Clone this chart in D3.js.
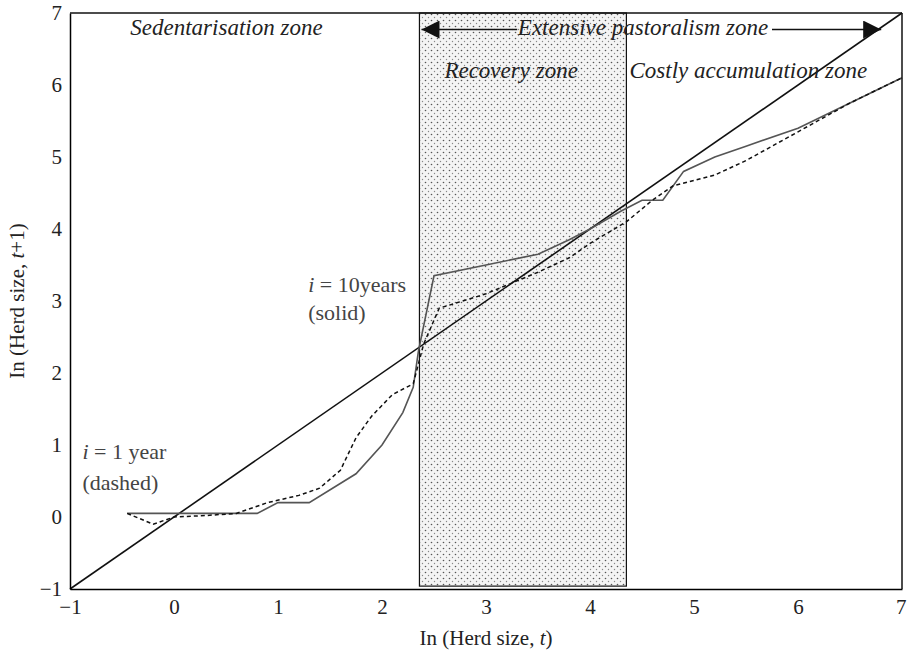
<!DOCTYPE html>
<html lang="en">
<head>
<meta charset="UTF-8">
<title>Herd size dynamics</title>
<script src="https://d3js.org/d3.v7.min.js"></script>
<style>
    body { margin: 0; background: #fff; }
    text { font-family: "Liberation Serif", "DejaVu Serif", serif; fill: #222; }
    .zone { font-style: italic; font-size: 23px; }
    .note { font-size: 22px; fill: #444; }
</style>
</head>
<body>
<svg id="chart"></svg>
<script>
    // data
    var xTicks = [-1, 0, 1, 2, 3, 4, 5, 6, 7];
    var yTicks = [-1, 0, 1, 2, 3, 4, 5, 6, 7];
    var recoveryZone = [2.36, 4.35];
    var diagonal = [[-1, -1], [7, 7]];
    var solidX = [-0.45, 0.8, 1.0, 1.3, 1.75, 2.0, 2.2, 2.3, 2.35, 2.5, 3.0, 3.5, 3.8, 4.0, 4.3, 4.5, 4.7, 4.9, 5.2, 5.5, 6.0, 6.5, 7.0];
    var solidY = [0.05, 0.05, 0.2, 0.2, 0.6, 1.0, 1.45, 1.8, 2.3, 3.35, 3.5, 3.65, 3.85, 4.0, 4.25, 4.4, 4.4, 4.8, 5.0, 5.15, 5.4, 5.75, 6.1];
    var dashedX = [-0.45, -0.2, 0.0, 0.3, 0.6, 0.9, 1.2, 1.4, 1.6, 1.75, 1.9, 2.1, 2.3, 2.4, 2.55, 3.0, 3.5, 3.8, 4.0, 4.35, 4.6, 4.8, 5.2, 5.5, 6.0, 6.5, 7.0];
    var dashedY = [0.05, -0.1, 0.0, 0.02, 0.05, 0.2, 0.3, 0.4, 0.65, 1.1, 1.4, 1.7, 1.85, 2.4, 2.9, 3.1, 3.4, 3.6, 3.8, 4.1, 4.4, 4.6, 4.75, 4.95, 5.35, 5.75, 6.1];

    var margin = { top: 13, right: 5, bottom: 68, left: 70 },
        width = 907 - margin.left - margin.right,
        height = 657 - margin.top - margin.bottom;

    var root = d3.select("#chart").attr("width", 907).attr("height", 657);
    var defs = root.append("defs");
    var pat = defs.append("pattern").attr("id", "dots")
        .attr("width", 6).attr("height", 6).attr("patternUnits", "userSpaceOnUse");
    pat.append("rect").attr("width", 6).attr("height", 6).attr("fill", "#f4f4f4");
    pat.append("circle").attr("cx", 1.5).attr("cy", 1.5).attr("r", 0.8).attr("fill", "#555");
    pat.append("circle").attr("cx", 4.5).attr("cy", 4.5).attr("r", 0.7).attr("fill", "#888");
    defs.append("marker").attr("id", "arrow").attr("viewBox", "0 0 10 10")
        .attr("refX", 10).attr("refY", 5).attr("markerWidth", 22).attr("markerHeight", 18)
        .attr("markerUnits", "userSpaceOnUse").attr("orient", "auto")
        .append("path").attr("d", "M0,0L10,5L0,10Z").attr("fill", "#111");

    var svg = root.append("g").attr("transform", "translate(" + margin.left + "," + margin.top + ")");

    var x = d3.scaleLinear().domain([-1, 7]).range([0, width]);
    var y = d3.scaleLinear().domain([-1, 7]).range([height, 0]);

    // recovery zone
    svg.append("rect")
        .attr("x", x(recoveryZone[0])).attr("y", y(7))
        .attr("width", x(recoveryZone[1]) - x(recoveryZone[0]))
        .attr("height", y(-0.96) - y(7))
        .attr("fill", "url(#dots)").attr("stroke", "#111").attr("stroke-width", 1.2);

    var line = d3.line().x(d => x(d[0])).y(d => y(d[1]));

    svg.append("path").datum(diagonal).attr("d", line)
        .attr("fill", "none").attr("stroke", "#111").attr("stroke-width", 1.6);
    svg.append("path").datum(solidX.map((v, i) => [v, solidY[i]])).attr("d", line)
        .attr("fill", "none").attr("stroke", "#555").attr("stroke-width", 1.6);
    svg.append("path").datum(dashedX.map((v, i) => [v, dashedY[i]])).attr("d", line)
        .attr("fill", "none").attr("stroke", "#111").attr("stroke-width", 1.5)
        .attr("stroke-dasharray", "4,3");

    // axes
    var fmt = d => d < 0 ? "\u2212" + (-d) : d;
    svg.append("g")
        .attr("transform", "translate(0," + height + ")")
        .call(d3.axisBottom(x).tickValues(xTicks).tickSize(0).tickPadding(10).tickFormat(fmt))
        .call(g => g.select(".domain").attr("stroke-width", 1.5))
        .call(g => g.selectAll(".tick text").filter(d => d === 7).attr("text-anchor", "end").attr("dx", 4));
    svg.append("g")
        .call(d3.axisLeft(y).tickValues(yTicks).tickSize(0).tickPadding(8).tickFormat(fmt))
        .call(g => g.select(".domain").attr("stroke-width", 1.5));
    svg.selectAll(".tick text").attr("fill", "#222").style("font-family", "Liberation Serif").style("font-size", "21px");
    svg.append("line").attr("x1", 0).attr("x2", width).attr("y1", 0).attr("y2", 0).attr("stroke", "#111").attr("stroke-width", 1.5);
    svg.append("line").attr("x1", width).attr("x2", width).attr("y1", 0).attr("y2", height).attr("stroke", "#111").attr("stroke-width", 1.5);

    // zone labels
    svg.append("text").attr("class", "zone").attr("x", x(-0.42)).attr("y", y(6.7)).text("Sedentarisation zone");
    svg.append("text").attr("class", "zone").attr("x", x(4.51)).attr("y", y(6.7)).attr("text-anchor", "middle").text("Extensive pastoralism zone");
    svg.append("text").attr("class", "zone").attr("x", x(2.6)).attr("y", y(6.1)).text("Recovery zone");
    svg.append("text").attr("class", "zone").attr("x", x(4.38)).attr("y", y(6.1)).text("Costly accumulation zone");
    svg.append("line").attr("x1", x(3.3)).attr("x2", x(2.38)).attr("y1", y(6.77)).attr("y2", y(6.77))
        .attr("stroke", "#111").attr("stroke-width", 1.5).attr("marker-end", "url(#arrow)");
    svg.append("line").attr("x1", x(5.75)).attr("x2", x(6.8)).attr("y1", y(6.77)).attr("y2", y(6.77))
        .attr("stroke", "#111").attr("stroke-width", 1.5).attr("marker-end", "url(#arrow)");

    // curve notes
    var n1 = svg.append("text").attr("class", "note").attr("x", x(1.29)).attr("y", y(3.13));
    n1.append("tspan").attr("font-style", "italic").text("i");
    n1.append("tspan").text(" = 10years");
    svg.append("text").attr("class", "note").attr("x", x(1.29)).attr("y", y(2.74)).text("(solid)");
    var n2 = svg.append("text").attr("class", "note").attr("x", x(-0.88)).attr("y", y(0.8));
    n2.append("tspan").attr("font-style", "italic").text("i");
    n2.append("tspan").text(" = 1 year");
    svg.append("text").attr("class", "note").attr("x", x(-0.88)).attr("y", y(0.38)).text("(dashed)");

    // axis labels
    var xl = svg.append("text").attr("text-anchor", "middle").attr("x", x(3)).attr("y", height + 56).style("font-size", "21px");
    xl.append("tspan").text("In (Herd size, ");
    xl.append("tspan").attr("font-style", "italic").text("t");
    xl.append("tspan").text(")");
    var yl = svg.append("text").attr("text-anchor", "middle")
        .attr("transform", "translate(-46," + y(3) + ") rotate(-90)").style("font-size", "21px");
    yl.append("tspan").text("In (Herd size, ");
    yl.append("tspan").attr("font-style", "italic").text("t");
    yl.append("tspan").text("+1)");
</script>
</body>
</html>
